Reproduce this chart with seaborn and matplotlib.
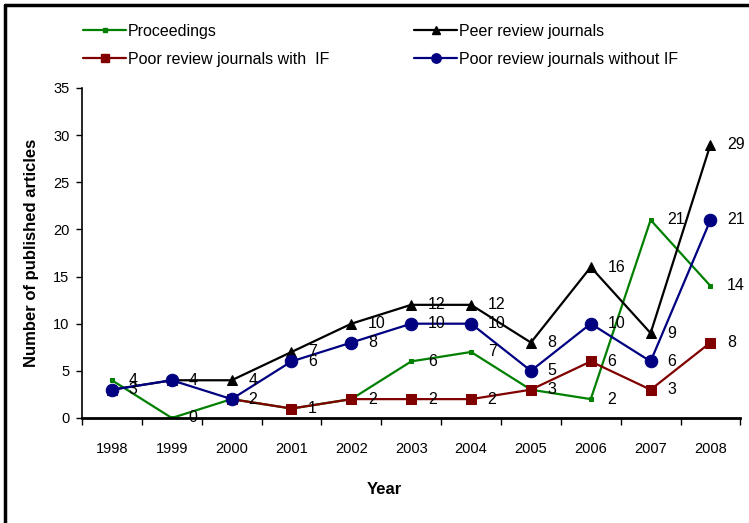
import numpy as np
import pandas as pd
import matplotlib
matplotlib.use("Agg")
import matplotlib.pyplot as plt
from matplotlib.lines import Line2D
import seaborn as sns

years = [1998, 1999, 2000, 2001, 2002, 2003, 2004, 2005, 2006, 2007, 2008]
proceedings = [4, 0, 2, 1, 2, 6, 7, 3, 2, 21, 14]
peer_review = [3, 4, 4, 7, 10, 12, 12, 8, 16, 9, 29]
with_if = [np.nan, np.nan, 2, 1, 2, 2, 2, 3, 6, 3, 8]
without_if = [3, 4, 2, 6, 8, 10, 10, 5, 10, 6, 21]

sns.set_theme(style="white")
plt.rcParams['font.family'] = ['Liberation Sans', 'DejaVu Sans']
plt.rcParams['text.color'] = 'black'
plt.rcParams['axes.labelcolor'] = 'black'

fig = plt.figure(figsize=(7.49, 5.23), dpi=100)
ax = fig.add_axes([0.1095, 0.2008, 0.879, 0.631])

# series: (values, label, colour, marker, marker size)
series = [
    (proceedings, "Proceedings", "#008000", "s", 3),
    (peer_review, "Peer review journals", "black", "^", 7),
    (with_if, "Poor review journals with  IF", "#800000", "s", 7),
    (without_if, "Poor review journals without IF", "#000080", "o", 9),
]

handles = {}
done = set()
for vals, name, col, mk, ms in series:
    df = pd.DataFrame({"Year": years, "n": vals}).dropna()
    sns.lineplot(data=df, x="Year", y="n", ax=ax, color=col, marker=mk,
                 markersize=ms, markeredgecolor=col, linewidth=1.6, label=name)
    for x, y in zip(df["Year"], df["n"]):
        # labels of equal points sit on top of each other, draw only one
        if (x, y) in done:
            continue
        done.add((x, y))
        ax.annotate(f"{int(y)}", (x, y), xytext=(12, 0), textcoords="offset points",
                    ha="left", va="center", fontsize=11.5, color="black")
    handles[name] = Line2D([], [], color=col, marker=mk, markersize=ms * 0.75,
                           markeredgecolor=col, linewidth=1.6)

ax.get_legend().remove()

ax.set_xlim(1997.5, 2008.5)
ax.set_ylim(0, 35)
ax.set_xticks(years)
ax.set_xticklabels([str(y) for y in years])
ax.set_xticks(np.arange(1997.5, 2009, 1), minor=True)
ax.set_yticks(range(0, 36, 5))
ax.tick_params(axis="x", which="major", length=0, pad=17, labelsize=10.5, colors="black")
ax.tick_params(axis="x", which="minor", length=5, width=1, color="black", direction="out",
               bottom=True)
ax.tick_params(axis="y", length=4, width=1, color="black", direction="out", pad=5,
               labelsize=10.5, left=True, labelcolor="black")

for s in ["top", "right"]:
    ax.spines[s].set_visible(False)
ax.spines["left"].set_color("black")
ax.spines["left"].set_linewidth(1.2)
ax.spines["bottom"].set_color("black")
ax.spines["bottom"].set_linewidth(2)

ax.set_xlabel("Year", fontsize=12, fontweight="bold")
ax.set_ylabel("Number of published articles", fontsize=12, fontweight="bold")
ax.xaxis.set_label_coords(0.459, -0.194)
ax.yaxis.set_label_coords(-0.066, 0.5)

left_names = ["Proceedings", "Poor review journals with  IF"]
right_names = ["Peer review journals", "Poor review journals without IF"]
for names, xpos in [(left_names, 83 / 749), (right_names, 414 / 749)]:
    fig.legend([handles[n] for n in names], names, loc="upper left",
               bbox_to_anchor=(xpos, 1 - 24 / 523), frameon=False, fontsize=11.5,
               handlelength=2.7, handletextpad=0.1, labelspacing=0.8,
               borderpad=0, borderaxespad=0)

# frame lines on top and left of the picture
fig.add_artist(Line2D([5 / 749, 1], [1 - 5 / 523, 1 - 5 / 523], color="black", linewidth=2.5,
                      transform=fig.transFigure))
fig.add_artist(Line2D([5 / 749, 5 / 749], [0, 1 - 5 / 523], color="black", linewidth=2.5,
                      transform=fig.transFigure))

fig.savefig("out.png", dpi=100)
